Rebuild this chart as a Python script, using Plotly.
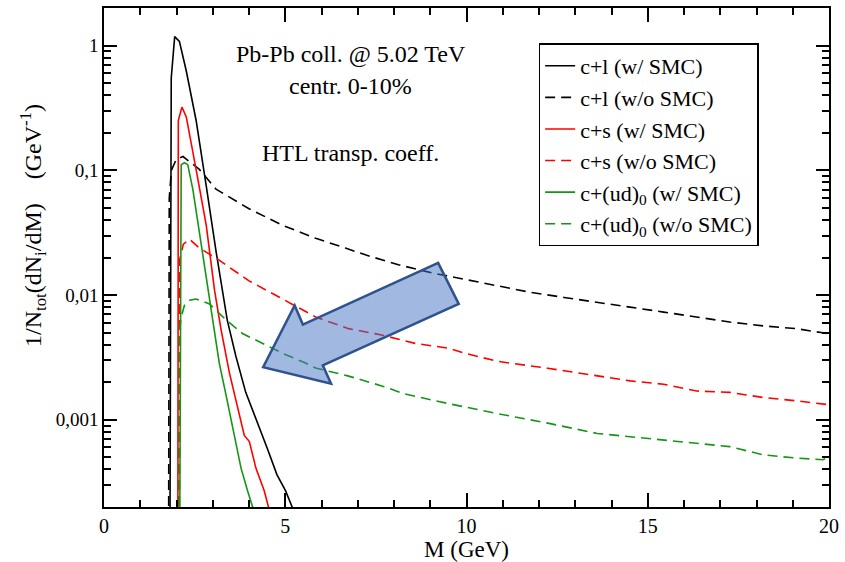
import plotly.graph_objects as go

# Invariant-mass distributions of charm-diquark / charm-quark pairs, 1/N_tot dN_i/dM
# c + l  (with / without space-momentum correlations)
M_cl_smc = [1.80, 1.855, 1.95, 2.08, 2.27, 2.54, 2.82, 3.09, 3.40, 3.64, 3.91, 4.19, 4.50, 4.77, 5.01, 5.19, 5.30]
V_cl_smc = [1e-6, 0.55, 1.18, 1.08, 0.625, 0.252, 0.075, 0.0225, 0.0063, 0.00322, 0.00166, 0.00103,
            5.94e-4, 3.64e-4, 2.69e-4, 2.0e-4, 1.5e-4]

M_cl_nosmc = [1.77, 1.80, 1.86, 1.99, 2.18, 2.63, 3.09, 4.00, 4.92, 5.84, 6.66, 7.21, 8.12, 9.03, 9.95, 10.86,
              11.78, 12.69, 13.97, 14.51, 15.44, 16.35, 17.26, 18.18, 19.10, 19.83, 20.0]
V_cl_nosmc = [1e-6, 0.06, 0.100, 0.122, 0.129, 0.1017, 0.0706, 0.0492, 0.0363, 0.0285, 0.0238, 0.021, 0.0175,
              0.0151, 0.01336, 0.01186, 0.0105, 0.00957, 0.0085, 0.0080, 0.0073, 0.00667, 0.00608,
              0.00566, 0.00538, 0.00498, 0.0049]

# c + s
M_cs_smc = [2.03, 2.05, 2.15, 2.27, 2.54, 2.82, 3.05, 3.23, 3.46, 3.68, 3.87, 4.01, 4.19, 4.42, 4.55, 4.65]
V_cs_smc = [1e-6, 0.25, 0.321, 0.268, 0.1017, 0.0363, 0.0109, 0.00526, 0.00238, 0.0013, 7.5e-4, 6.7e-4,
            4.1e-4, 2.7e-4, 2.0e-4, 1.5e-4]

M_cs_nosmc = [2.03, 2.085, 2.19, 2.36, 2.63, 3.09, 4.00, 4.92, 5.84, 6.75, 7.66, 8.58, 9.49, 9.95, 10.86,
              12.24, 13.61, 14.52, 15.44, 16.35, 17.26, 18.18, 19.10, 19.83, 20.0]
V_cs_nosmc = [1e-6, 0.0191, 0.0256, 0.028, 0.0238, 0.0198, 0.013, 0.00929, 0.00667, 0.00538, 0.00478,
              0.0041, 0.00375, 0.00342, 0.00294, 0.00259, 0.00224, 0.00205, 0.00193, 0.0017, 0.00166,
              0.00151, 0.00142, 0.00134, 0.00132]

# c + (ud)_0
M_cud_smc = [2.06, 2.13, 2.22, 2.31, 2.45, 2.63, 2.82, 2.91, 3.05, 3.18, 3.37, 3.59, 3.78, 3.96, 4.10, 4.20]
V_cud_smc = [1e-6, 0.111, 0.115, 0.111, 0.0707, 0.0324, 0.0146, 0.00958, 0.00526, 0.00285, 0.00156,
             7.5e-4, 4.1e-4, 2.7e-4, 2.0e-4, 1.5e-4]

M_cud_nosmc = [2.07, 2.085, 2.13, 2.22, 2.36, 2.54, 2.91, 3.37, 3.82, 4.37, 4.92, 5.56, 5.84, 6.75, 7.66,
               8.30, 9.49, 10.86, 12.24, 13.61, 14.52, 15.44, 16.35, 17.26, 18.18, 19.10, 19.83, 20.0]
V_cud_nosmc = [1e-6, 0.00526, 0.00667, 0.00828, 0.00908, 0.00929, 0.00849, 0.00631, 0.00492, 0.0041,
               0.00342, 0.00285, 0.0026, 0.00224, 0.00187, 0.00161, 0.00135, 0.00112, 9.4e-4, 7.77e-4,
               7.3e-4, 6.87e-4, 6.47e-4, 6.1e-4, 5.24e-4, 4.93e-4, 4.79e-4, 5.0e-4]

series = [
    ("c+l (w/ SMC)", M_cl_smc, V_cl_smc, "black", "solid"),
    ("c+l (w/o SMC)", M_cl_nosmc, V_cl_nosmc, "black", "10px,6px"),
    ("c+s (w/ SMC)", M_cs_smc, V_cs_smc, "#ff0000", "solid"),
    ("c+s (w/o SMC)", M_cs_nosmc, V_cs_nosmc, "#ff0000", "10px,6px"),
    ("c+(ud)<sub>0</sub> (w/ SMC)", M_cud_smc, V_cud_smc, "#149614", "solid"),
    ("c+(ud)<sub>0</sub> (w/o SMC)", M_cud_nosmc, V_cud_nosmc, "#149614", "10px,6px"),
]

y_major = [0.001, 0.01, 0.1, 1]
y_major_text = ["0,001", "0,01", "0,1", "1"]
y_minor = [m * 10.0 ** e for e in (-4, -3, -2, -1, 0) for m in range(2, 10)]

SERIF = "Liberation Serif"

fig = go.Figure()
for name, xs, ys, col, dash in series:
    fig.add_trace(go.Scatter(x=xs, y=ys, mode="lines", name=name,
                             line=dict(color=col, width=1.6, dash=dash)))

fig.update_layout(
    width=845, height=562,
    margin=dict(l=104, r=12, t=6, b=49),
    paper_bgcolor="white", plot_bgcolor="white",
    font=dict(family=SERIF, size=22, color="black"),
    showlegend=True,
    legend=dict(x=0.5995, y=0.929, xanchor="left", yanchor="top",
                bordercolor="black", borderwidth=1.5, bgcolor="white",
                font=dict(family=SERIF, size=22, color="black"),
                tracegroupgap=0, itemwidth=30),
)

fig.update_xaxes(
    range=[0, 20], tickvals=[0, 5, 10, 15, 20],
    ticks="inside", ticklen=14, tickwidth=1.5, tickcolor="black",
    minor=dict(dtick=1, ticks="inside", ticklen=7, tickwidth=1.5, tickcolor="black", showgrid=False),
    showline=True, linewidth=1.5, linecolor="black", mirror="ticks",
    showgrid=False, zeroline=False,
    tickfont=dict(family=SERIF, size=20, color="black"),
    title=dict(text="M (GeV)", font=dict(family=SERIF, size=23), standoff=3),
)

fig.update_yaxes(
    type="log", range=[-3.699, 0.301],
    tickvals=y_major, ticktext=y_major_text,
    ticks="inside", ticklen=13, tickwidth=1.5, tickcolor="black",
    minor=dict(tickvals=y_minor, ticks="inside", ticklen=7, tickwidth=1.5, tickcolor="black", showgrid=False),
    showline=True, linewidth=1.5, linecolor="black", mirror="ticks",
    showgrid=False, zeroline=False,
    tickfont=dict(family=SERIF, size=19, color="black"),
)

# y-axis title
fig.add_annotation(
    text="1/N<sub>tot</sub>(dN<sub>i</sub>/dM)\u00a0\u00a0\u00a0\u00a0(GeV<sup>-1</sup>)",
    xref="paper", yref="paper", x=-0.0988, y=0.564, textangle=-90,
    xanchor="center", yanchor="middle",
    showarrow=False, font=dict(family=SERIF, size=24, color="black"),
)

# in-plot labels
for txt, yy in [("Pb-Pb coll. @ 5.02 TeV", 0.907), ("centr. 0-10%", 0.844), ("HTL transp. coeff.", 0.710)]:
    fig.add_annotation(text=txt, xref="paper", yref="paper", x=0.340, y=yy,
                       xanchor="center", yanchor="middle", showarrow=False,
                       font=dict(family=SERIF, size=24, color="black"))

# block arrow pointing from the w/o-SMC tails toward the low-mass peak region
arrow_pts = [(0.4609, 0.4892), (0.4893, 0.4069), (0.3018, 0.2840), (0.3132, 0.2471),
             (0.2195, 0.2801), (0.2630, 0.4037), (0.2743, 0.3655)]
path = "M " + " L ".join(f"{px},{py}" for px, py in arrow_pts) + " Z"
fig.add_shape(type="path", path=path, xref="paper", yref="paper",
              fillcolor="rgba(68,114,196,0.5)", line=dict(color="#2F528F", width=2.5),
              layer="above")

fig.write_html("out.html")
